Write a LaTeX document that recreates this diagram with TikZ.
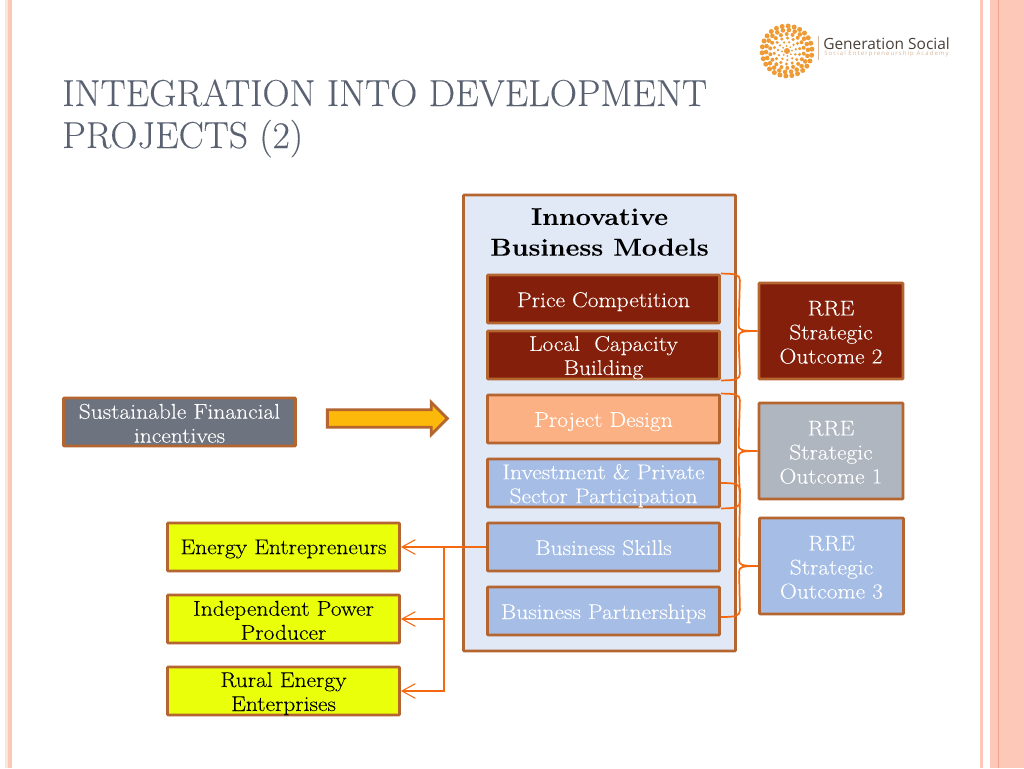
\documentclass[tikz,border=0pt]{standalone}
\usepackage{fontspec}
\setmainfont{Latin Modern Roman}[FakeStretch=1.1,FakeBold=0.1]
\newfontfamily\titlef{Latin Modern Roman}[FakeBold=0.1]
\newfontfamily\logof{Open Sans}
\newfontfamily\logos{Open Sans}[LetterSpace=18]
\usetikzlibrary{arrows.meta,shapes.arrows,calc}
\definecolor{edgeb}{HTML}{B5652F}
\definecolor{linkc}{HTML}{F4690F}
\definecolor{pinkb}{HTML}{FDC8B8}
\definecolor{pinkc}{HTML}{FBE6DA}
\definecolor{pinkd}{HTML}{EFA48C}
\definecolor{titlec}{HTML}{5A6272}
\definecolor{redb}{HTML}{841F0B}
\definecolor{blueb}{HTML}{A6BEE6}
\definecolor{greyb}{HTML}{B0B6C0}
\definecolor{slateb}{HTML}{6E747F}
\definecolor{peachb}{HTML}{FBB183}
\definecolor{yelb}{HTML}{EAFF0A}
\definecolor{panelb}{HTML}{E1E8F6}
\definecolor{goldb}{HTML}{FDB90A}
\definecolor{logoo}{HTML}{EE9A35}
\definecolor{logot}{HTML}{4A4038}
\definecolor{logos}{HTML}{D8B89C}
\tikzset{
 x=0.75pt,y=-0.75pt,
 boxb/.style={draw=edgeb,line width=2.1pt,inner sep=0pt,rounded corners=0.6pt},
 tw/.style={text=white,align=center,inner sep=0pt,font=\fontsize{16}{18}\selectfont},
 tk/.style={tw,text=black},
 wide/.style={minimum width=232*0.75pt,minimum height=48*0.75pt},
 tall/.style={minimum width=144*0.75pt,minimum height=96*0.75pt},
 redbox/.style={boxb,fill=redb},
 bluebox/.style={boxb,fill=blueb},
 yelbox/.style={boxb,fill=yelb},
 link/.style={draw=linkc,line width=1.3pt},
 arr/.style={link,-{Straight Barb[length=10pt,width=11pt,line width=0.8pt]}},
}
% bracket from (#1) down to (#2) with tip at (#3), spine at x=739
\newcommand{\brk}[3]{\draw[link] (#1) .. controls ($(#1)+(15,0)$) and ($(#1)+(19,1)$) .. ($(#1)+(19,7)$) -- ($(#3)+(-19,-6)$) .. controls ($(#3)+(-19,-1)$) and ($(#3)+(-17,0)$) .. (#3) .. controls ($(#3)+(-17,0)$) and ($(#3)+(-19,1)$) .. ($(#3)+(-19,6)$) -- ($(#2)+(19,-7)$) .. controls ($(#2)+(19,-1)$) and ($(#2)+(15,0)$) .. (#2);}
\begin{document}
\begin{tikzpicture}
\useasboundingbox (0,0) rectangle (1024,768);
\fill[white] (0,0) rectangle (1024,768);
% slide ornaments
\fill[pinkc] (5,0) rectangle (8,768);
\fill[pinkb] (8,0) rectangle (12,768);
\fill[pinkb] (980,0) rectangle (983,768);
\fill[pinkb] (990,0) rectangle (1024,768);
\fill[pinkd] (997.5,0) rectangle (999,768);
% logo
\foreach \r/\n/\s in {5/8/1.0,9/11/1.3,13/14/1.7,17/18/2.0,21/22/2.3,25/26/2.5}{
 \foreach \i in {1,...,\n}{
  \fill[logoo] (787,51)++({\r*cos(\i*360/\n+\r*17)},{\r*sin(\i*360/\n+\r*17)}) circle (\s);
 }}
\fill[logoo] (787,51) circle (3);
\draw[logos,line width=0.3pt] (818,36) -- (818,60);
\node[anchor=west,inner sep=0pt,text=logot,font=\logof\fontsize{11.6}{14}\selectfont] (logo1) at (823,43.5) {Generation Social};
\node[anchor=west,inner sep=0pt,text=logos,font=\logos\fontsize{4.5}{6}\selectfont] (logo2) at (824,54) {Social Enterpreneurship Academy};
% title
\node[anchor=base west,inner sep=0pt,text=titlec,font=\titlef\fontsize{28.15}{31}\selectfont] (t1) at (62,106) {INTEGRATION INTO DEVELOPMENT};
\node[anchor=base west,inner sep=0pt,text=titlec,font=\titlef\fontsize{28.15}{31}\selectfont] (t2) at (62,148) {PROJECTS (2)};
% panel
\node[boxb,fill=panelb,minimum width=272*0.75pt,minimum height=456*0.75pt] (panel) at (599.5,423) {};
\node[align=center,inner sep=0pt,font=\bfseries\fontsize{18.3}{23}\selectfont,text=black] (ptitle) at (599.5,232) {Innovative\\Business Models};
% inner boxes
\node[redbox,wide,label={[tw,yshift=-2pt]center:Price Competition}] (pc) at (603.5,299) {};
\node[redbox,wide,label={[tw,yshift=-2pt]center:{Local\ \ Capacity\\Building}}] (lc) at (603.5,355) {};
\node[boxb,fill=peachb,wide,label={[tw,yshift=-2pt]center:Project Design}] (pd) at (603.5,419) {};
\node[bluebox,wide,label={[tw,yshift=-2pt]center:{Investment \& Private\\Sector Participation}}] (inv) at (603.5,483) {};
\node[bluebox,wide,label={[tw,yshift=-0.5pt]center:Business Skills}] (bs) at (603.5,547) {};
\node[bluebox,wide,label={[tw,yshift=-2pt]center:Business Partnerships}] (bp) at (603.5,611) {};
% outcomes
\node[redbox,tall,label={[tw,yshift=-1pt]center:{RRE\\Strategic\\Outcome 2}}] (o2) at (831,331) {};
\node[boxb,fill=greyb,tall,label={[tw,yshift=-1pt]center:{RRE\\Strategic\\Outcome 1}}] (o1) at (831,451) {};
\node[bluebox,tall,label={[tw,yshift=-1pt]center:{RRE\\Strategic\\Outcome 3}}] (o3) at (831.5,566) {};
% left boxes
\node[boxb,fill=slateb,wide,label={[tw,yshift=-1pt]center:{Sustainable Financial\\incentives}}] (sf) at (179.5,422) {};
\node[yelbox,wide,label={[tk,yshift=-1.5pt]center:Energy Entrepreneurs}] (ee) at (283.5,547) {};
\node[yelbox,wide,label={[tk,yshift=-1pt]center:{Independent Power\\Producer}}] (ip) at (283.5,619) {};
\node[yelbox,wide,label={[tk,yshift=-2pt]center:{Rural Energy\\Enterprises}}] (re) at (283.5,691) {};
% block arrow
\node[single arrow,draw=edgeb,fill=goldb,line width=2.1pt,inner xsep=0pt,inner ysep=5.5pt,minimum height=120*0.75pt,minimum width=32*0.75pt,single arrow head extend=5.5pt,single arrow tip angle=90] (barrow) at (383,418.5) {};
% links
\coordinate (j) at (444,547);
\draw[arr] (bs.west) -- (ee.east);
\draw[arr] (j) |- (ip.east);
\draw[arr] (j) |- (re.east);
% brackets
\coordinate (a1) at (pc.north east);
\coordinate (a2) at (lc.south east);
\coordinate (b1) at (pd.north east);
\coordinate (b2) at (inv.south east);
\coordinate (c1) at (inv.east);
\coordinate (c2) at ($(bp.east)+(0,6)$);
\brk{a1}{a2}{o2.west}
\brk{b1}{b2}{o1.west}
\brk{c1}{c2}{o3.west}
\end{tikzpicture}
\end{document}
